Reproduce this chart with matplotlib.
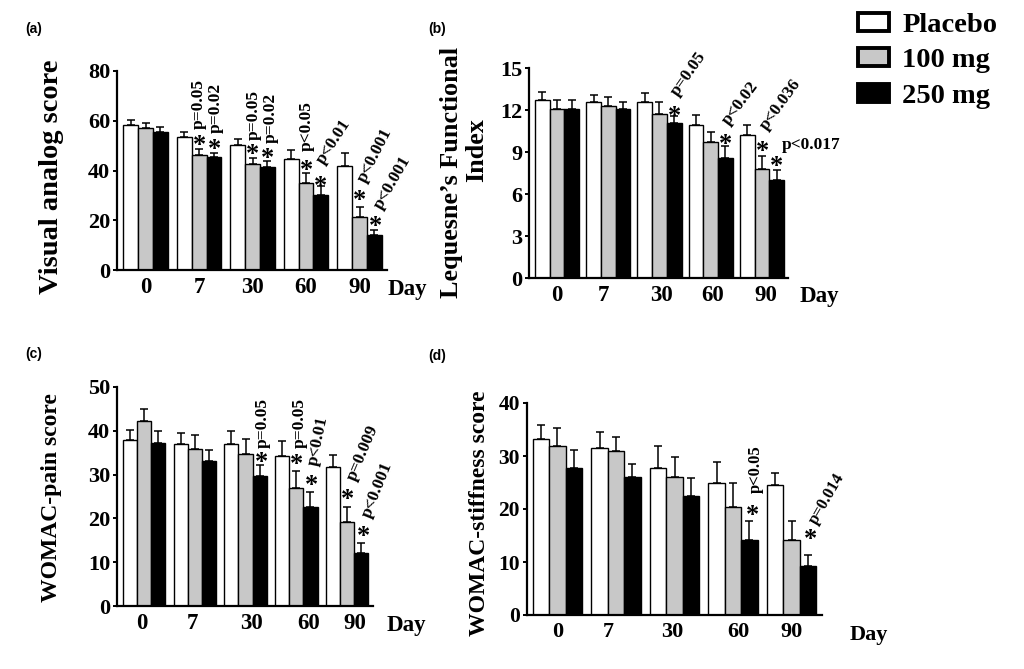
import numpy as np
import matplotlib
matplotlib.use("Agg")
from matplotlib import pyplot as plt
from matplotlib.patches import Patch

# 字体：Times 风格的粗体
plt.rcParams["font.family"] = ["Liberation Serif", "DejaVu Serif"]
plt.rcParams["font.weight"] = "bold"

W, H = 1024, 669

days = ["0", "7", "30", "60", "90"]
groups = ["Placebo", "100 mg", "250 mg"]
colors = ["white", "#c8c8c8", "black"]

# (a) Visual analog score
vas_mean = [[58.3, 53.6, 50.3, 44.8, 42.0],
            [57.2, 46.2, 42.6, 34.9, 21.2],
            [55.6, 45.3, 41.3, 30.2, 13.9]]
vas_sd = [[2.0, 1.8, 2.2, 3.5, 4.9],
          [1.8, 2.3, 2.6, 4.0, 4.3],
          [2.0, 1.9, 2.5, 3.6, 2.2]]
vas_notes = [(1, 1, "p=0.05"), (1, 2, "p=0.02"), (2, 1, "p=0.05"), (2, 2, "p=0.02"),
             (3, 1, "p<0.05"), (3, 2, "p<0.01"), (4, 1, "p<0.001"), (4, 2, "p<0.001")]

# (b) Lequesne's Functional Index
lfi_mean = [[12.74, 12.6, 12.55, 10.9, 10.2],
            [12.1, 12.26, 11.7, 9.7, 7.8],
            [12.1, 12.1, 11.1, 8.57, 7.0]]
lfi_sd = [[0.55, 0.5, 0.7, 0.75, 0.73],
          [0.6, 0.65, 0.87, 0.73, 0.94],
          [0.64, 0.45, 0.5, 0.88, 0.74]]
lfi_notes = [(2, 2, "p=0.05"), (3, 2, "p<0.02"), (4, 1, "p<0.036"), (4, 2, "p<0.017")]

# (c) WOMAC-pain score
pain_mean = [[38.0, 36.9, 36.9, 34.3, 31.8],
             [42.2, 35.9, 34.6, 27.0, 19.2],
             [37.2, 33.0, 29.7, 22.6, 12.0]]
pain_sd = [[2.1, 2.6, 3.0, 3.4, 2.6],
           [2.8, 3.1, 3.6, 3.9, 3.4],
           [2.7, 2.6, 2.4, 3.4, 2.4]]
pain_notes = [(2, 2, "p=0.05"), (3, 1, "p=0.05"), (3, 2, "p<0.01"),
              (4, 1, "p=0.009"), (4, 2, "p<0.001")]

# (d) WOMAC-stiffness score
stiff_mean = [[33.3, 31.5, 27.8, 25.0, 24.5],
              [31.8, 30.9, 26.1, 20.3, 14.2],
              [27.8, 26.1, 22.5, 14.2, 9.3]]
stiff_sd = [[2.6, 3.1, 4.0, 3.9, 2.3],
            [3.5, 2.7, 3.8, 4.7, 3.6],
            [3.4, 2.4, 3.3, 3.6, 2.0]]
stiff_notes = [(3, 2, "p<0.05"), (4, 2, "p=0.014")]

STAR_FS = 19


def add_axes(fig, l, r, t, b):
    return fig.add_axes([l / W, 1 - b / H, (r - l) / W, (b - t) / H])


def draw_panel(ax, means, sds, ymax, ystep, xlim, width, tick_shift, tick_fs,
               notes, note_style, note_fs):
    x = np.arange(len(days))
    for i in range(3):
        ax.bar(x + (i - 1) * width, means[i], width, color=colors[i],
               edgecolor="black", linewidth=1.0,
               yerr=[np.zeros(len(days)), sds[i]],
               error_kw=dict(ecolor="black", elinewidth=1.1, capsize=2.6, capthick=1.1))
    ax.set_xlim(*xlim)
    ax.set_ylim(0, ymax)
    ax.set_yticks(np.arange(0, ymax + 0.1, ystep))
    ax.set_xticks(x + np.array(tick_shift))
    ax.set_xticklabels(days)
    for s in ["top", "right"]:
        ax.spines[s].set_visible(False)
    for s in ["left", "bottom"]:
        ax.spines[s].set_linewidth(1.6)
    ax.tick_params(axis="y", length=3, width=1.4, pad=2, labelsize=tick_fs)
    ax.tick_params(axis="x", length=0, pad=5, labelsize=tick_fs + 0.5)
    ax.patch.set_alpha(0)

    # 显著性标记
    star_shift = 0.5 * STAR_FS / 0.72
    for (d, g, txt), (ang, sdx, sdy, tdx, tdy) in zip(notes, note_style):
        xx = d + (g - 1) * width
        yy = means[g][d] + sds[g][d]
        ax.annotate("*", (xx, yy), xytext=(sdx, sdy - star_shift), textcoords="offset pixels",
                    ha="center", va="baseline", fontsize=STAR_FS)
        ax.annotate(txt, (xx, yy), xytext=(tdx, tdy), textcoords="offset pixels",
                    ha="left", va="center", rotation=ang, rotation_mode="anchor",
                    fontsize=note_fs)


fig = plt.figure(figsize=(W / 100, H / 100), dpi=100)
fig.patch.set_facecolor("white")

# (a)
ax_a = add_axes(fig, 117, 387, 71, 270)
draw_panel(ax_a, vas_mean, vas_sd, 80, 20, (-0.533, 4.514), 0.28,
           [0, 0, 0, 0, 0], 16, vas_notes,
           [(90, 1, 11, 0, 20), (90, 1, 10, 2, 20), (90, 0, 10, 1, 18), (90, 0, 9, 3, 18),
            (90, 1, 9, 1, 22), (57, 0, 6, -1, 23), (63, 0, 13, 2, 25), (60, 1, 10, 3, 22)],
           12.5)

# (b)
ax_b = add_axes(fig, 529, 788, 68, 278)
draw_panel(ax_b, lfi_mean, lfi_sd, 15, 3, (-0.546, 4.507), 0.287,
           [0, -0.1, 0.04, 0.03, 0.08], 16, lfi_notes,
           [(55, 0, 6, 0, 21), (53, 0, 8, 0, 23), (54, 1, 11, 1, 27), (0, 0, 10, 5, 25)],
           12.5)

# (c)
ax_c = add_axes(fig, 117, 373, 387, 606)
draw_panel(ax_c, pain_mean, pain_sd, 50, 10, (-0.536, 4.513), 0.28,
           [-0.04, -0.04, 0.11, 0.25, 0.15], 16, pain_notes,
           [(90, 2, 10, 3, 17), (90, 0, 13, 3, 23), (78, 1, 13, 2, 27),
            (67, 1, 14, 4, 27), (68, 2, 13, 5, 26)],
           12.5)

# (d)
ax_d = add_axes(fig, 527, 822, 403, 615)
draw_panel(ax_d, stiff_mean, stiff_sd, 40, 10, (-0.521, 4.521), 0.28,
           [0, -0.13, -0.03, 0.09, 0], 15.5, stiff_notes,
           [(90, 3, 12, 6, 28), (60, 3, 22, 5, 32)],
           12)

# y 轴标题
lab = dict(rotation=90, rotation_mode="anchor", ha="center", va="baseline")
fig.text(58 / W, 1 - 177 / H, "Visual analog score", fontsize=20.5, **lab)
fig.text(458 / W, 1 - 172 / H, "Lequesne\u2019s Functional", fontsize=18.8, **lab)
fig.text(483 / W, 1 - 150 / H, "Index", fontsize=18.8, **lab)
fig.text(57 / W, 1 - 498 / H, "WOMAC-pain score", fontsize=17, **lab)
fig.text(485 / W, 1 - 513 / H, "WOMAC-stiffness score", fontsize=17, **lab)

# "Day" 标签
for (xp, yp, fs) in [(388, 289, 16.5), (800, 297, 16.5), (387, 625, 16.5), (850, 635, 16)]:
    fig.text(xp / W, 1 - yp / H, "Day", fontsize=fs, ha="left", va="center")

# 面板编号
for (xp, yp, t) in [(25, 29, "(a)"), (428, 29, "(b)"), (25, 354, "(c)"), (428, 356, "(d)")]:
    fig.text(xp / W, 1 - yp / H, t, fontsize=10, ha="left", va="center",
             family=["Liberation Sans", "DejaVu Sans"], weight="bold")

# 图例
handles = [Patch(facecolor=c, edgecolor="black", linewidth=2.8) for c in colors]
fig.legend(handles, groups, loc="upper left", bbox_to_anchor=(858 / W, 1 - 13 / H),
           frameon=False, fontsize=20.5, handlelength=1.1, handleheight=0.6,
           handletextpad=0.45, labelspacing=0.36, borderpad=0, borderaxespad=0)

fig.savefig("out.png", dpi=100, facecolor="white")
